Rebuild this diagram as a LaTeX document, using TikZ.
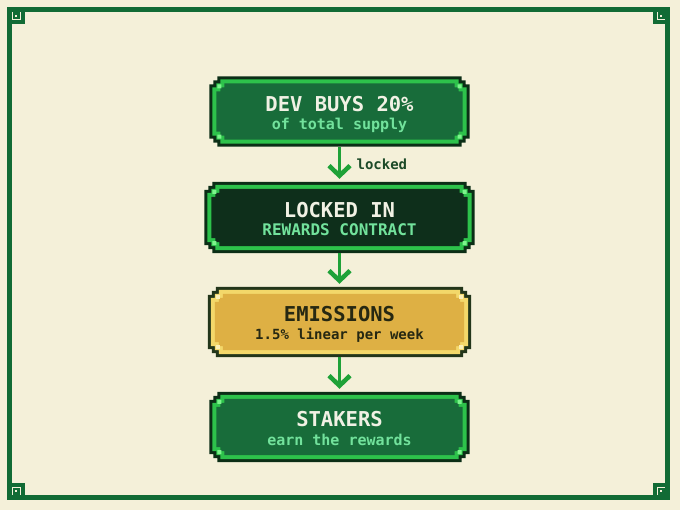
\documentclass[tikz,border=0pt]{standalone}
\usepackage{fontspec}
\newfontfamily\pixfont{DejaVu Sans Mono}
\usetikzlibrary{arrows.meta, calc}

\definecolor{paper}{HTML}{F4F0D9}
\definecolor{framegreen}{HTML}{116B35}
\definecolor{outline}{HTML}{0B2E16}
\definecolor{leaf}{HTML}{2DC24B}
\definecolor{spark}{HTML}{7CF58C}
\definecolor{forest}{HTML}{186C3A}
\definecolor{night}{HTML}{0E2F1B}
\definecolor{gold}{HTML}{DEB044}
\definecolor{goldlight}{HTML}{F3D86A}
\definecolor{goldspark}{HTML}{FBF0B8}
\definecolor{goldline}{HTML}{22361A}
\definecolor{ink}{HTML}{F1F1E4}
\definecolor{mint}{HTML}{72E29C}
\definecolor{olive}{HTML}{262812}
\definecolor{arrowgreen}{HTML}{1FA238}
\definecolor{labelgreen}{HTML}{1C4A28}

\pgfdeclarelayer{paper}
\pgfdeclarelayer{boxes}
\pgfsetlayers{paper,boxes,main}

% stepped pixel outline round a node: name, inset, step, colour
\newcommand{\pixfill}[4]{%
  \fill[#4] let \p1=(#1.north west), \p2=(#1.south east),
    \n1={\x1+#2}, \n2={\x2-#2}, \n3={\y1-#2}, \n4={\y2+#2}, \n5={#3} in
    ({\n1+2*\n5},\n3) -- ({\n2-2*\n5},\n3) -- ({\n2-2*\n5},{\n3-\n5}) -- ({\n2-\n5},{\n3-\n5})
    -- ({\n2-\n5},{\n3-2*\n5}) -- (\n2,{\n3-2*\n5}) -- (\n2,{\n4+2*\n5}) -- ({\n2-\n5},{\n4+2*\n5})
    -- ({\n2-\n5},{\n4+\n5}) -- ({\n2-2*\n5},{\n4+\n5}) -- ({\n2-2*\n5},\n4) -- ({\n1+2*\n5},\n4)
    -- ({\n1+2*\n5},{\n4+\n5}) -- ({\n1+\n5},{\n4+\n5}) -- ({\n1+\n5},{\n4+2*\n5}) -- (\n1,{\n4+2*\n5})
    -- (\n1,{\n3-2*\n5}) -- ({\n1+\n5},{\n3-2*\n5}) -- ({\n1+\n5},{\n3-\n5}) -- ({\n1+2*\n5},{\n3-\n5}) -- cycle;
}
% whole box: name, outline, border, fill, corner dots
\newcommand{\pixbox}[5]{%
  \pixfill{#1}{0}{4}{#2}
  \pixfill{#1}{3}{4}{#3}
  \pixfill{#1}{7}{4}{#4}
  \fill[#5] let \p1=(#1.north west), \p2=(#1.south east) in
    ({\x1+8pt},{\y1-8pt}) rectangle ++(4pt,-4pt)
    ({\x2-8pt},{\y1-8pt}) rectangle ++(-4pt,-4pt)
    ({\x1+8pt},{\y2+8pt}) rectangle ++(4pt,4pt)
    ({\x2-8pt},{\y2+8pt}) rectangle ++(-4pt,4pt);
}

\begin{document}
\begin{tikzpicture}[x=1pt, y=-1pt,
    pix/.style={minimum width=#1, minimum height=70pt, inner sep=0pt, align=center,
      text height=36pt, text depth=0pt,
      font=\pixfont\bfseries\fontsize{20.5}{18}\selectfont},
    flow/.style={draw=arrowgreen, line width=3.5pt,
      -{Straight Barb[length=10pt, width=21pt, line width=4.5pt]}, shorten >=3pt}]

  \begin{pgfonlayer}{paper}
    \fill[paper] (0,0) rectangle (680,510);
  \end{pgfonlayer}
  \useasboundingbox (0,0) rectangle (680,510);

  % frame and corner keys
  \draw[framegreen, line width=5pt] (9.5,9.5) rectangle (667.5,497.5);
  \foreach \cx/\cy/\dx/\dy in {9.5/9.5/1/1, 667.5/9.5/-1/1, 9.5/497.5/1/-1, 667.5/497.5/-1/-1}{
    \draw[framegreen, line width=4pt] (\cx,\cy) rectangle ++({13*\dx},{13*\dy});
    \fill[framegreen] ({\cx+3*\dx},{\cy+3*\dy}) rectangle ++({7*\dx},{7*\dy});
    \fill[paper] ({\cx+5.5*\dx},{\cy+5.5*\dy}) rectangle ++({2*\dx},{2*\dy});
  }

  % boxes
  \node[pix=260pt, text=ink] (dev) at (339.5,111.5)
    {DEV BUYS 20\%\\{\fontsize{15}{18}\selectfont\color{mint}of total supply}};
  \node[pix=270pt, minimum height=71pt, text=ink] (lock) at (339.5,217.5)
    {LOCKED IN\\{\fontsize{16}{18}\selectfont\color{mint}REWARDS CONTRACT}};
  \node[pix=263pt, text=olive] (emit) at (339.5,322)
    {EMISSIONS\\{\fontsize{14}{18}\selectfont 1.5\% linear per week}};
  \node[pix=260pt, text=ink] (stake) at (339.5,427)
    {STAKERS\\{\fontsize{15}{18}\selectfont\color{mint}earn the rewards}};

  \begin{pgfonlayer}{boxes}
    \pixbox{dev}{outline}{leaf}{forest}{spark}
    \pixbox{lock}{outline}{leaf}{night}{spark}
    \pixbox{emit}{goldline}{goldlight}{gold}{goldspark}
    \pixbox{stake}{outline}{leaf}{forest}{spark}
  \end{pgfonlayer}

  % arrows
  \draw[flow] (dev) -- (lock) node[midway, right, xshift=12pt, text=labelgreen,
    font=\pixfont\bfseries\fontsize{14}{16}\selectfont] (lockednote) {locked};
  \draw[flow] (lock) -- (emit);
  \draw[flow] (emit) -- (stake);
\end{tikzpicture}
\end{document}
